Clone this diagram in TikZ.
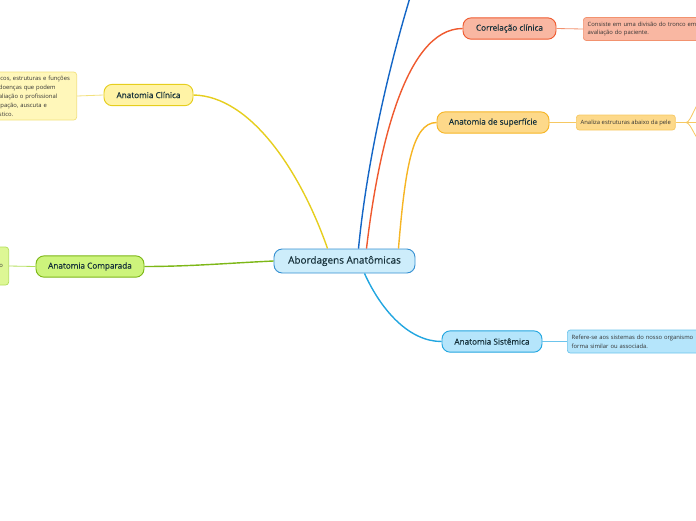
\documentclass[tikz,border=0pt]{standalone}
\usepackage{fontspec}
\setmainfont{Open Sans}
\newfontfamily\branchfont[FakeBold=0.35]{Open Sans}
\usetikzlibrary{positioning}

\definecolor{inkmain}{HTML}{15303A}
\definecolor{inknote}{HTML}{333333}
\definecolor{rootfill}{HTML}{CDEDFB}
\definecolor{rootline}{HTML}{3590D2}
\definecolor{yelfill}{HTML}{FFF3A6}
\definecolor{yelline}{HTML}{E6CE1E}
\definecolor{yelnote}{HTML}{FFF7BA}
\definecolor{yelnoteline}{HTML}{F2E17E}
\definecolor{grnfill}{HTML}{CDF47C}
\definecolor{grnline}{HTML}{7DB717}
\definecolor{grnnote}{HTML}{DDF795}
\definecolor{grnnoteline}{HTML}{B3DE5C}
\definecolor{redfill}{HTML}{F9B7A2}
\definecolor{redline}{HTML}{EF5A2F}
\definecolor{rednoteline}{HTML}{F2926F}
\definecolor{orgfill}{HTML}{FDD98A}
\definecolor{orgline}{HTML}{F6B524}
\definecolor{orgnoteline}{HTML}{F6C862}
\definecolor{blufill}{HTML}{B5E5FB}
\definecolor{bluline}{HTML}{22A6E0}
\definecolor{blunoteline}{HTML}{6CC4EC}
\definecolor{deepblue}{HTML}{1466C6}

\begin{document}
\begin{tikzpicture}[
    x=0.03cm, y=-0.03cm,
    branch/.style={rectangle, rounded corners=7pt, draw, line width=0.8pt, text=inkmain,
        minimum height=0.64cm, inner sep=0pt, font=\branchfont\fontsize{7}{8.5}\selectfont},
    note/.style={rectangle, rounded corners=2.5pt, draw, line width=0.6pt, text=inknote,
        align=left, inner xsep=0.13cm, inner ysep=0.1cm, font=\fontsize{5}{7.6}\selectfont},
    link/.style={line width=1.2pt},
    thin/.style={line width=0.7pt}
]
\useasboundingbox (0,0) rectangle (696,520);
\clip (0,0) rectangle (696,520);

% Root
\node[branch, fill=rootfill, draw=rootline, minimum width=4.23cm, minimum height=0.72cm,
    font=\branchfont\fontsize{8.5}{10}\selectfont] (root) at (344.5,261) {Abordagens Anatômicas};

% Branches
\node[branch, fill=yelfill, draw=yelline, minimum width=2.67cm] (clinica) at (148.5,95) {Anatomia Clínica};
\node[branch, fill=grnfill, draw=grnline, minimum width=3.24cm] (comparada) at (90,266.5) {Anatomia Comparada};
\node[branch, fill=redfill, draw=redline, minimum width=2.79cm] (correlacao) at (509.5,28.5) {Correlação clínica};
\node[branch, fill=orgfill, draw=orgline, minimum width=3.36cm] (superficie) at (493,122.5) {Anatomia de superfície};
\node[branch, fill=blufill, draw=bluline, minimum width=3.0cm] (sistemica) at (492,341.5) {Anatomia Sistêmica};

% Notes
\node[note, fill=yelnote, draw=yelnoteline, anchor=east, text width=2.2cm, minimum height=1.44cm]
    (clinicanote) at (77,96) {icos, estruturas e funções\\doenças que podem\\aliação o profissional\\lpação, auscuta e\\stico.};
\node[note, fill=grnnote, draw=grnnoteline, anchor=east, text width=0.15cm, minimum height=1.14cm]
    (comparadanote) at (9,266) {o};
\node[note, fill=redfill, draw=rednoteline, anchor=west, text width=3.4cm, minimum height=0.69cm]
    (correlacaonote) at (583,29) {Consiste em uma divisão do tronco em\\avaliação do paciente.};
\node[note, fill=orgfill, draw=orgnoteline, anchor=west, minimum height=0.45cm, inner ysep=0.05cm]
    (superficienote) at (576,122.5) {Analiza estruturas abaixo da pele};
\node[note, fill=blufill, draw=blunoteline, anchor=west, text width=3.8cm, minimum height=0.69cm]
    (sistemicanote) at (567,341.5) {Refere-se aos sistemas do nosso organismo\\forma similar ou associada.};

% Free ends
\coordinate (topend) at (422,-40);
\coordinate (split) at (686,122.5);
\coordinate (sub1) at (712,90);
\coordinate (sub2) at (712,122.5);
\coordinate (sub3) at (712,152);

% Main links
\draw[link, yelline] (root.north west) ++(54,0) .. controls (300,170) and (250,96) .. (clinica.east);
\draw[link, grnline] (root.west) .. controls (230,263) and (190,266.5) .. (comparada.east);
\draw[link, deepblue] (root.north) ++(14,0) .. controls (368,150) and (395,40) .. (topend);
\draw[link, redline] (root.north) ++(22,0) .. controls (378,150) and (405,28.5) .. (correlacao.west);
\draw[link, orgline] (root.north east) ++(-17,0) .. controls (405,170) and (412,122.5) .. (superficie.west);
\draw[link, bluline] (root.south) ++(20,0) .. controls (382,312) and (410,341.5) .. (sistemica.west);

% Note links
\draw[thin, yelnoteline] (clinica.west) -- (clinicanote.east);
\draw[thin, grnnoteline] (comparada.west) -- (comparadanote.east);
\draw[thin, rednoteline] (correlacao.east) -- (correlacaonote.west);
\draw[thin, orgnoteline] (superficie.east) -- (superficienote.west);
\draw[thin, blunoteline] (sistemica.east) -- (sistemicanote.west);

% Sub links
\draw[thin, orgnoteline] (superficienote.east) -- (split);
\draw[thin, orgnoteline] (split) .. controls (692,122.5) and (696,96) .. (sub1);
\draw[thin, orgnoteline] (split) -- (sub2);
\draw[thin, orgnoteline] (split) .. controls (692,122.5) and (696,146) .. (sub3);

\end{tikzpicture}
\end{document}
